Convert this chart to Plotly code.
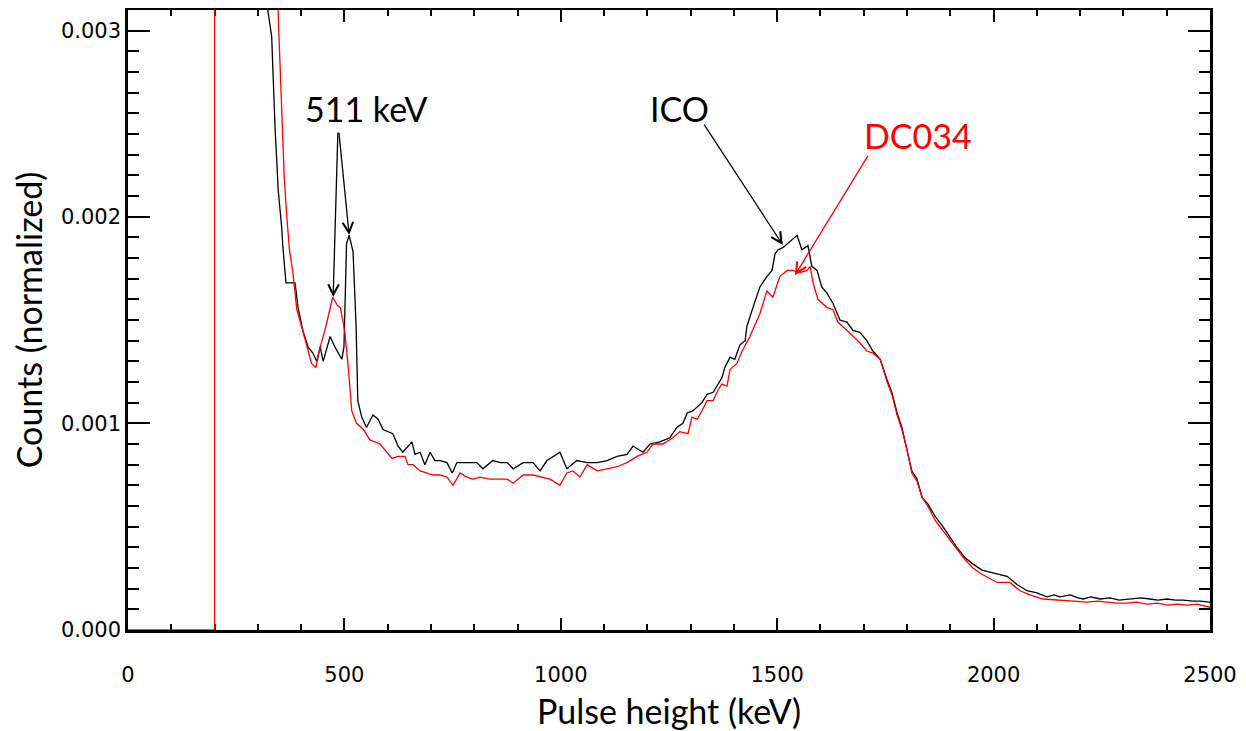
import plotly.graph_objects as go

# ICO spectrum (black)
# (its zero part below 200 keV is hidden under the red trace)
ico_kev = [200, 250, 290, 310, 323, 332, 336, 340, 344, 347, 355, 358, 365,
           374, 386, 393, 404, 416, 427, 436, 444, 451, 467, 478, 494, 499, 505, 511,
           520, 527, 531, 540, 551, 566, 578, 589, 612, 624, 635, 656, 663, 675, 686,
           698, 709, 721, 737, 749, 760, 783, 806, 820, 843, 860, 876, 890, 913, 936,
           952, 968, 982, 998, 1014, 1037, 1061, 1084, 1107, 1130, 1153, 1167, 1190,
           1206, 1229, 1252, 1268, 1282, 1292, 1305, 1326, 1338, 1352, 1363, 1372,
           1379, 1391, 1402, 1414, 1426, 1430, 1444, 1460, 1476, 1488, 1495, 1502,
           1513, 1530, 1546, 1557, 1571, 1580, 1592, 1603, 1615, 1629, 1645, 1661,
           1675, 1691, 1707, 1721, 1738, 1754, 1765, 1777, 1788, 1800, 1811, 1823,
           1835, 1848, 1865, 1883, 1899, 1915, 1934, 1952, 1973, 1992, 2015, 2031,
           2054, 2077, 2100, 2123, 2140, 2153, 2177, 2195, 2207, 2225, 2246, 2269,
           2290, 2322, 2340, 2361, 2380, 2401, 2420, 2438, 2460, 2477, 2500]
ico_counts = [0.0120, 0.0075, 0.0048, 0.0036, 0.00300, 0.00287, 0.00262, 0.00242,
              0.00226, 0.00213, 0.00195, 0.00185, 0.00168, 0.00168, 0.00168, 0.00156,
              0.00145, 0.00137, 0.00134, 0.00130, 0.00137, 0.00130, 0.00142, 0.00137,
              0.00131, 0.00137, 0.00187, 0.00191, 0.00183, 0.00147, 0.00111, 0.00103,
              0.00098, 0.00104, 0.00102, 0.00097, 0.00095, 0.00089, 0.00086, 0.00091,
              0.00085, 0.00086, 0.00080, 0.00086, 0.00082, 0.00082, 0.00081, 0.00076,
              0.00081, 0.00081, 0.00081, 0.00078, 0.00082, 0.00081, 0.00081, 0.00078,
              0.00081, 0.00081, 0.00077, 0.00082, 0.00084, 0.00086, 0.00078, 0.00082,
              0.00081, 0.00081, 0.00082, 0.00084, 0.00085, 0.00089, 0.00086, 0.00090,
              0.00091, 0.00093, 0.00098, 0.00100, 0.00105, 0.00106, 0.00110, 0.00114,
              0.00115, 0.00119, 0.00122, 0.00127, 0.00132, 0.00131, 0.00138, 0.00140,
              0.00147, 0.00156, 0.00166, 0.00171, 0.00174, 0.00182, 0.00184, 0.00185,
              0.00188, 0.00191, 0.00184, 0.00186, 0.00176, 0.00174, 0.00166, 0.00163,
              0.00158, 0.00150, 0.00149, 0.00145, 0.00144, 0.00140, 0.00135, 0.00131,
              0.00121, 0.00115, 0.00105, 0.00098, 0.00087, 0.00077, 0.00073, 0.00064,
              0.00061, 0.00055, 0.00050, 0.00045, 0.00040, 0.00035, 0.00032, 0.00029,
              0.00028, 0.00027, 0.00026, 0.00022, 0.00019, 0.00018, 0.00016, 0.00017,
              0.00016, 0.00017, 0.000155, 0.00015, 0.00016, 0.00015, 0.000155, 0.000145,
              0.00015, 0.000155, 0.00015, 0.000145, 0.00015, 0.000145, 0.000145,
              0.00014, 0.00014, 0.000135]

# DC034 spectrum (red)
dc034_kev = [0, 200, 200, 280, 320, 340, 347, 353, 357, 361, 367, 373, 381, 390, 401,
             413, 424, 434, 444, 455, 467, 473, 484, 491, 501, 509, 517, 528, 544, 559,
             582, 610, 624, 640, 647, 659, 675, 691, 705, 721, 737, 751, 767, 783, 797,
             813, 836, 860, 876, 890, 913, 936, 959, 975, 998, 1014, 1028, 1044, 1061,
             1084, 1107, 1130, 1153, 1176, 1199, 1213, 1236, 1259, 1275, 1294, 1303,
             1315, 1326, 1338, 1352, 1363, 1372, 1384, 1391, 1407, 1419, 1437, 1460,
             1476, 1490, 1506, 1523, 1536, 1553, 1569, 1576, 1583, 1594, 1615, 1629,
             1640, 1661, 1675, 1691, 1707, 1721, 1738, 1754, 1765, 1777, 1788, 1800,
             1811, 1823, 1835, 1848, 1865, 1883, 1899, 1915, 1934, 1952, 1973, 2008,
             2038, 2061, 2084, 2114, 2146, 2165, 2183, 2200, 2216, 2240, 2262, 2285,
             2308, 2330, 2354, 2380, 2401, 2425, 2447, 2470, 2500]
dc034_counts = [0, 0, 0.0140, 0.0070, 0.0045, 0.0034, 0.00300, 0.00268, 0.00243, 0.00219,
                0.00200, 0.00184, 0.00173, 0.00155, 0.00147, 0.00137, 0.00129, 0.00127,
                0.00137, 0.00145, 0.00156, 0.00161, 0.00157, 0.00156, 0.00144, 0.00127,
                0.00106, 0.00100, 0.00097, 0.00092, 0.00090, 0.00083, 0.00084, 0.00084,
                0.00080, 0.00080, 0.00077, 0.00076, 0.00075, 0.00075, 0.00074, 0.00070,
                0.00076, 0.00074, 0.00073, 0.00074, 0.00073, 0.00073, 0.00073, 0.00071,
                0.00075, 0.00075, 0.00074, 0.00073, 0.00070, 0.00076, 0.00077, 0.00074,
                0.00080, 0.00077, 0.00078, 0.00079, 0.00081, 0.00084, 0.00086, 0.00090,
                0.00090, 0.00093, 0.00096, 0.00095, 0.00103, 0.00102, 0.00106, 0.00111,
                0.00111, 0.00116, 0.00119, 0.00118, 0.00126, 0.00129, 0.00135, 0.00142,
                0.00153, 0.00164, 0.00161, 0.00171, 0.00174, 0.00174, 0.00173, 0.00174,
                0.00176, 0.00168, 0.00160, 0.00156, 0.00155, 0.00149, 0.00145, 0.00142,
                0.00139, 0.00135, 0.00134, 0.00131, 0.00120, 0.00114, 0.00104, 0.00097,
                0.00087, 0.00076, 0.00072, 0.00064, 0.00060, 0.00053, 0.00048, 0.00044,
                0.00039, 0.00034, 0.00030, 0.00027, 0.00023, 0.00023, 0.00019, 0.00017,
                0.00015, 0.000145, 0.00014, 0.00014, 0.000135, 0.000135, 0.00014,
                0.000135, 0.00013, 0.00013, 0.000135, 0.000125, 0.00013, 0.00012,
                0.000125, 0.00012, 0.000125, 0.00011]

y_tickvals = [0, 0.001, 0.002, 0.0029]
y_ticktext = ["0.000", "0.001", "0.002", "0.003"]
x_tickvals = [0, 500, 1000, 1500, 2000, 2500]

fig = go.Figure()
fig.add_trace(go.Scatter(x=ico_kev, y=ico_counts, mode="lines", name="ICO",
                         line=dict(color="black", width=1.3)))
fig.add_trace(go.Scatter(x=dc034_kev, y=dc034_counts, mode="lines", name="DC034",
                         line=dict(color="#ff0000", width=1.3)))

tick_font = dict(family="DejaVu Sans", size=21, color="black")
title_font = dict(family="Lato", size=34, color="black")

fig.update_xaxes(range=[0, 2500], tickvals=x_tickvals, ticks="inside", ticklen=12,
                 tickwidth=2, tickcolor="black", showline=True, linecolor="black",
                 linewidth=2.5, mirror="allticks", showgrid=False, zeroline=False,
                 tickfont=tick_font, ticklabelstandoff=24, layer="below traces",
                 automargin=False,
                 minor=dict(dtick=100, tick0=0, ticks="inside", ticklen=6,
                            tickwidth=2, tickcolor="black", showgrid=False),
                 title=dict(text="Pulse height (keV)", font=title_font, standoff=32))
fig.update_yaxes(range=[0, 0.003], tickvals=y_tickvals, ticktext=y_ticktext,
                 ticks="inside", ticklen=22, tickwidth=2, tickcolor="black",
                 showline=True, linecolor="black", linewidth=2.5, mirror="allticks",
                 showgrid=False, zeroline=False, tickfont=tick_font,
                 ticklabelstandoff=0, layer="below traces", automargin=False,
                 minor=dict(tickmode="linear", dtick=0.0001, tick0=0, ticks="inside",
                            ticklen=11, tickwidth=2, tickcolor="black", showgrid=False),
                 title=dict(text="Counts (normalized)", font=title_font, standoff=13))

ann_font = dict(family="Lato", size=34)
# labels
fig.add_annotation(x=550, y=0.002525, text="511 keV", showarrow=False,
                   font=dict(ann_font, color="black"))
fig.add_annotation(x=1275, y=0.002525, text="ICO", showarrow=False,
                   font=dict(ann_font, color="black"))
fig.add_annotation(x=1825, y=0.002395, text="DC034", showarrow=False,
                   font=dict(ann_font, color="#ff0000"))

# arrows: (head x, head y, tail x, tail y, colour)
arrows = [(474, 0.001611, 485, 0.002414, "black"),
          (511, 0.001911, 487, 0.002414, "black"),
          (1513, 0.001863, 1329, 0.002453, "black"),
          (1541, 0.001717, 1712, 0.002303, "#ff0000")]
for hx, hy, tx, ty, c in arrows:
    fig.add_annotation(x=hx, y=hy, ax=tx, ay=ty, xref="x", yref="y", axref="x",
                       ayref="y", text="", showarrow=True, arrowhead=5,
                       arrowsize=1.6, arrowwidth=1.3, arrowcolor=c)

# the page adds an 8 px body margin, so the figure is sized to fit inside it
fig.update_layout(width=1238, height=723, plot_bgcolor="white", paper_bgcolor="white",
                  showlegend=False, margin=dict(l=120, r=36, t=2, b=101))

fig.write_html("out.html")
